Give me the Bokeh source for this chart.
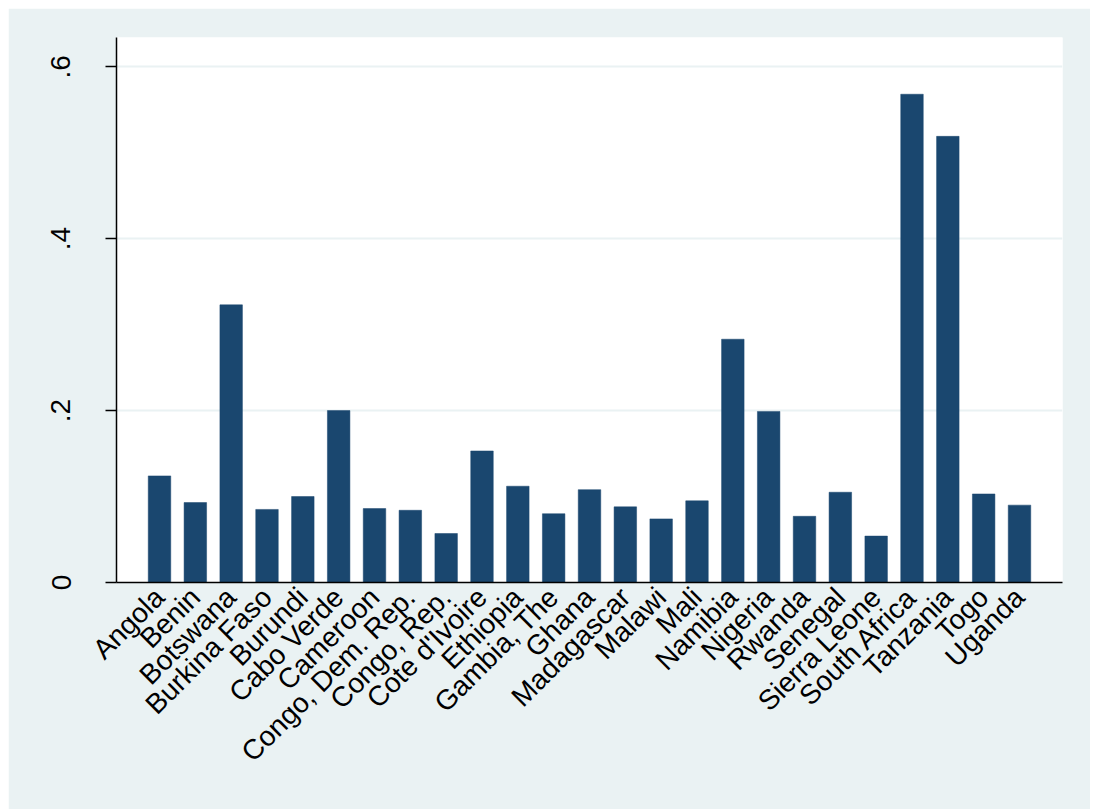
from bokeh.plotting import figure
from bokeh.models import FactorRange, Range1d, FixedTicker, ColumnDataSource
from bokeh.embed import file_html
from bokeh.resources import INLINE
import math

countries = ["Angola", "Benin", "Botswana", "Burkina Faso", "Burundi", "Cabo Verde",
             "Cameroon", "Congo, Dem. Rep.", "Congo, Rep.", "Cote d'Ivoire", "Ethiopia",
             "Gambia, The", "Ghana", "Madagascar", "Malawi", "Mali", "Namibia", "Nigeria",
             "Rwanda", "Senegal", "Sierra Leone", "South Africa", "Tanzania", "Togo", "Uganda"]
values = [0.124, 0.093, 0.323, 0.085, 0.100, 0.200,
          0.086, 0.084, 0.057, 0.153, 0.112,
          0.080, 0.108, 0.088, 0.074, 0.095, 0.283, 0.199,
          0.077, 0.105, 0.054, 0.568, 0.519, 0.103, 0.090]
y_ticks = [0, 0.2, 0.4, 0.6]
y_tick_labels = ["0", ".2", ".4", ".6"]

BG = "#eaf2f3"
BAR = "#1a476f"
FONT = "Liberation Sans"

source = ColumnDataSource(dict(country=countries, value=values))

p = figure(width=1082, height=801, output_backend="svg", toolbar_location=None,
           x_range=FactorRange(factors=countries, range_padding=0.7, range_padding_units="absolute"),
           y_range=Range1d(0, 0.634),
           min_border_left=108, min_border_right=28, min_border_top=29, min_border_bottom=227)
p.margin = (8, 0, 0, 8)

p.background_fill_color = "white"
p.border_fill_color = BG
p.outline_line_color = None

p.vbar(x="country", top="value", width=0.628, source=source,
       fill_color=BAR, line_color=BAR, line_width=0.5)

# grid
p.xgrid.grid_line_color = None
p.ygrid.ticker = FixedTicker(ticks=y_ticks[1:])
p.ygrid.grid_line_color = BG
p.ygrid.grid_line_width = 2

# y axis
p.yaxis.ticker = FixedTicker(ticks=y_ticks)
p.yaxis.major_label_overrides = {t: l for t, l in zip(y_ticks, y_tick_labels)}
p.yaxis.major_label_orientation = "vertical"
p.yaxis.major_label_text_font = FONT
p.yaxis.major_label_text_font_size = "28px"
p.yaxis.major_label_text_color = "black"
p.yaxis.major_label_standoff = 35
p.yaxis.major_tick_out = 11
p.yaxis.major_tick_in = 0
p.yaxis.minor_tick_line_color = None
p.yaxis.axis_line_color = "black"
p.yaxis.axis_line_width = 1.5
p.yaxis.major_tick_line_color = "black"
p.yaxis.major_tick_line_width = 1.5

# x axis
p.xaxis.major_label_orientation = math.pi / 4
p.xaxis.major_label_text_font = FONT
p.xaxis.major_label_text_font_size = "28px"
p.xaxis.major_label_text_color = "black"
p.xaxis.major_label_standoff = 4
p.xaxis.major_tick_line_color = None
p.xaxis.axis_line_color = "black"
p.xaxis.axis_line_width = 1.5

open("out.html", "w").write(file_html(p, INLINE))
